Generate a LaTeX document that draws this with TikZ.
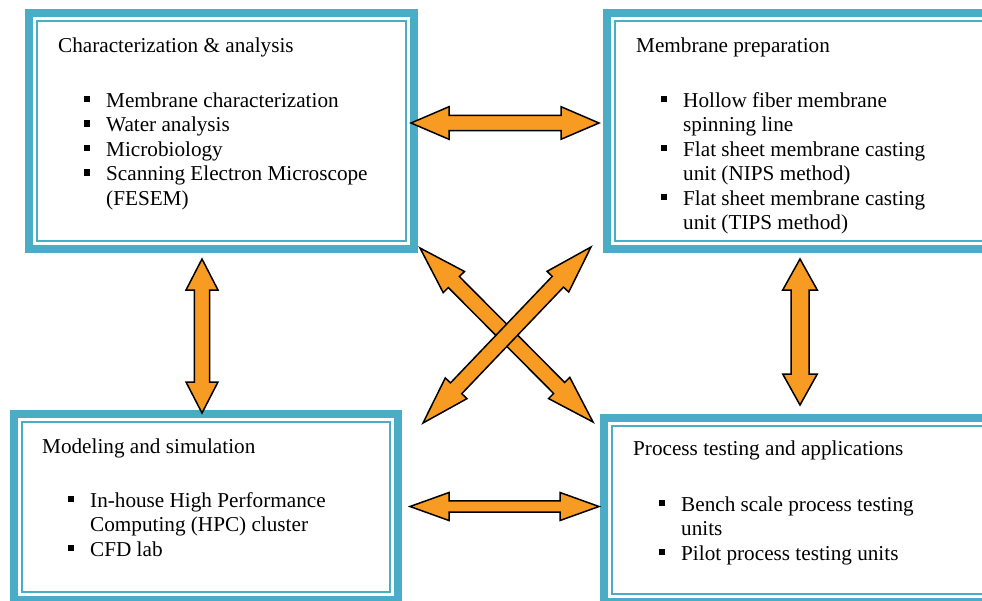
\documentclass[tikz,border=0pt]{standalone}
\usepackage{fontspec}
\setmainfont{Liberation Serif}
\usetikzlibrary{calc}

\definecolor{boxteal}{HTML}{4BACC6}
\definecolor{arroworange}{RGB}{247,155,34}

\newcommand{\sqbullet}{\llap{\rule[5pt]{6.5pt}{6.5pt}\hspace{16pt}}}
% double block arrow: from, to, head length, head half width, shaft half width
\newcommand{\dblarrow}[5]{%
  \draw[blockarrow] (#1) -- ($(#1)!#3!(#2)!#4!90:(#2)$) -- ($(#1)!#3!(#2)!#5!90:(#2)$)
    -- ($(#2)!#3!(#1)!#5!-90:(#1)$) -- ($(#2)!#3!(#1)!#4!-90:(#1)$) -- (#2)
    -- ($(#2)!#3!(#1)!#4!90:(#1)$) -- ($(#2)!#3!(#1)!#5!90:(#1)$)
    -- ($(#1)!#3!(#2)!#5!-90:(#2)$) -- ($(#1)!#3!(#2)!#4!-90:(#2)$) -- cycle;}

\begin{document}
\begin{tikzpicture}[x=1pt,y=-1pt,
    every node/.style={font=\fontsize{21.2}{24.5}\selectfont},
    box/.style={draw=boxteal,line width=8pt,inner sep=0pt,outer sep=0pt},
    innerline/.style={draw=boxteal,line width=1.8pt},
    title/.style={anchor=base west,inner sep=0pt},
    list/.style={anchor=base west,align=left,inner sep=0pt}, % base = last line
    blockarrow/.style={draw=black,fill=arroworange,line width=1.5pt,line join=miter}]
  \useasboundingbox (0,0) rectangle (982,600);
  \clip (0,0) rectangle (982,600);

  % the four boxes
  \node[box,minimum width=385pt,minimum height=236pt] (char)  at (221.5,131) {};
  \node[box,minimum width=389pt,minimum height=236pt] (prep)  at (801.5,131) {};
  \node[box,minimum width=384pt,minimum height=186pt] (model) at (206,507)   {};
  \node[box,minimum width=392pt,minimum height=184pt] (proc)  at (800,510)   {};
  \foreach \b in {char,prep,model,proc}
    \draw[innerline] ([shift={(8,8)}]\b.north west) rectangle ([shift={(-8,-8)}]\b.south east);

  \node[title] (chartitle)  at (58,52.5)  {Characterization \& analysis};
  \node[list]  (charlist)   at (106,205)  {\sqbullet Membrane characterization\\
                                           \sqbullet Water analysis\\
                                           \sqbullet Microbiology\\
                                           \sqbullet Scanning Electron Microscope\\
                                           (FESEM)};
  \node[title] (preptitle)  at (636,52.5) {Membrane preparation};
  \node[list]  (preplist)   at (683,229.5) {\sqbullet Hollow fiber membrane\\
                                           spinning line\\
                                           \sqbullet Flat sheet membrane casting\\
                                           unit (NIPS method)\\
                                           \sqbullet Flat sheet membrane casting\\
                                           unit (TIPS method)};
  \node[title] (modeltitle) at (42,453)   {Modeling and simulation};
  \node[list]  (modellist)  at (90,556)   {\sqbullet In-house High Performance\\
                                           Computing (HPC) cluster\\
                                           \sqbullet CFD lab};
  \node[title] (proctitle)  at (633,455)  {Process testing and applications};
  \node[list]  (proclist)   at (681,560)  {\sqbullet Bench scale process testing\\
                                           units\\
                                           \sqbullet Pilot process testing units};

  % arrow ends
  \coordinate (topL) at (411,123);   \coordinate (topR) at (599,123);
  \coordinate (botL) at (410,506.5); \coordinate (botR) at (599,506.5);
  \coordinate (lftT) at (202,259);   \coordinate (lftB) at (202,413);
  \coordinate (rgtT) at (800,259);   \coordinate (rgtB) at (800,405);
  \coordinate (dgTL) at (420,248);   \coordinate (dgBR) at (593,422);
  \coordinate (dgTR) at (591,247);   \coordinate (dgBL) at (423,423);

  \dblarrow{topL}{topR}{38pt}{16.3pt}{7.6pt}
  \dblarrow{botL}{botR}{39pt}{14pt}{5.6pt}
  \dblarrow{lftT}{lftB}{31pt}{16pt}{7.6pt}
  \dblarrow{rgtT}{rgtB}{31pt}{17.3pt}{9pt}
  \dblarrow{dgTL}{dgBR}{48pt}{15pt}{7.8pt}
  \dblarrow{dgTR}{dgBL}{48pt}{15pt}{7.8pt}
\end{tikzpicture}
\end{document}
